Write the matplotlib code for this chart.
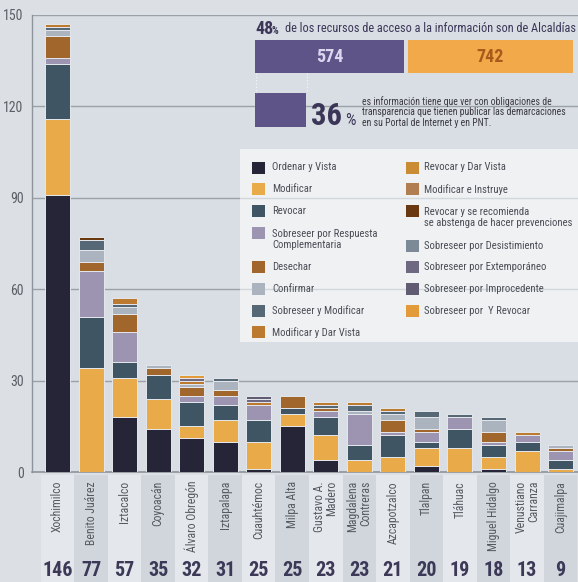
import numpy as np
import matplotlib
matplotlib.use("Agg")
import matplotlib.pyplot as plt
from matplotlib import font_manager, transforms
from matplotlib.patches import Rectangle

# ---------------- data ----------------
categories = ["Xochimilco", "Benito Juárez", "Iztacalco", "Coyoacán", "Álvaro Obregón",
              "Iztapalapa", "Cuauhtémoc", "Milpa Alta", "Gustavo A.\nMadero",
              "Magdalena\nContreras", "Azcapotzalco", "Tlalpan", "Tláhuac",
              "Miguel Hidalgo", "Venustiano\nCarranza", "Cuajimalpa"]
totals = [146, 77, 57, 35, 32, 31, 25, 25, 23, 23, 21, 20, 19, 18, 13, 9]

series_names = ["Ordenar y Vista", "Modificar", "Revocar",
                "Sobreseer por Respuesta\nComplementaria", "Desechar", "Confirmar",
                "Sobreseer y Modificar", "Modificar y Dar Vista", "Revocar y Dar Vista",
                "Modificar e Instruye",
                "Revocar y se recomienda\nse abstenga de hacer prevenciones",
                "Sobreseer por Desistimiento", "Sobreseer por Extemporáneo",
                "Sobreseer por Improcedente", "Sobreseer por  Y Revocar"]
series_colors = ["#262437", "#e9ab4a", "#3f5563", "#9d94b1", "#a0662b", "#abb3be",
                 "#566775", "#bb7a2f", "#c98b33", "#b07e50", "#693a12", "#7b8a96",
                 "#6e6881", "#625c72", "#e39b3a"]

ordenar      = [91, 0, 18, 14, 11, 10, 1, 15, 4, 0, 0, 2, 0, 1, 0, 0]
modificar    = [25, 34, 13, 10, 4, 7, 9, 4, 8, 4, 5, 6, 8, 4, 7, 1]
revocar      = [18, 17, 5, 8, 8, 5, 7, 2, 6, 5, 7, 2, 6, 4, 3, 3]
resp_compl   = [2, 15, 10, 0, 2, 3, 5, 0, 2, 10, 1, 3, 4, 1, 2, 3]
desechar     = [7, 3, 6, 2, 3, 2, 0, 4, 1, 0, 4, 1, 0, 3, 0, 1]
confirmar    = [2, 4, 2, 1, 1, 3, 0, 0, 0, 1, 2, 4, 0, 4, 0, 1]
sob_modif    = [1, 3, 1, 0, 0, 1, 0, 0, 1, 2, 1, 2, 1, 1, 0, 0]
modif_dv     = [1, 0, 2, 0, 1, 0, 1, 0, 1, 1, 1, 0, 0, 0, 1, 0]
revocar_dv   = [0] * 16
modif_instr  = [0] * 16
revocar_rec  = [0, 1, 0, 0, 0, 0, 0, 0, 0, 0, 0, 0, 0, 0, 0, 0]
desist       = [0] * 16
extemp       = [0, 0, 0, 0, 1, 0, 1, 0, 0, 0, 0, 0, 0, 0, 0, 0]
improc       = [0, 0, 0, 0, 0, 0, 1, 0, 0, 0, 0, 0, 0, 0, 0, 0]
sob_revocar  = [0, 0, 0, 0, 1, 0, 0, 0, 0, 0, 0, 0, 0, 0, 0, 0]
series_values = [ordenar, modificar, revocar, resp_compl, desechar, confirmar, sob_modif,
                 modif_dv, revocar_dv, modif_instr, revocar_rec, desist, extemp, improc,
                 sob_revocar]

yticks = [0, 30, 60, 90, 120, 150]
header_pct = "48"
header_text = "de los recursos de acceso a la información son de Alcaldías"
box_values = [574, 742]
sub_pct = "36"
sub_text = ("es información tiene que ver con obligaciones de\n"
            "transparencia que tienen publicar las demarcaciones\n"
            "en su Portal de Internet y en PNT.")

# ---------------- fonts ----------------
names = {f.name for f in font_manager.fontManager.ttflist}
COND = "DejaVu Sans"
for cand in ["Roboto Condensed", "Liberation Sans Narrow", "Open Sans Condensed", "Roboto"]:
    if cand in names:
        COND = cand
        break
plt.rcParams["font.family"] = [COND, "DejaVu Sans"]

# ---------------- figure ----------------
W, H = 578, 582
BG = "#dce0e5"
PLOT_BG = "#d9dee4"
fig = plt.figure(figsize=(W / 100, H / 100), dpi=100, facecolor=BG)
ax = fig.add_axes([32 / W, (H - 472) / H, (W - 32) / W, (472 - 15) / H])
ax.set_facecolor(PLOT_BG)

n = len(categories)
x = np.arange(n)
ax.set_xlim(-0.76, n - 1 + 0.52)
ax.set_ylim(0, 150)

bottom = np.zeros(n)
for vals, col in zip(series_values, series_colors):
    v = np.array(vals, dtype=float)
    m = v > 0
    if m.any():
        ax.bar(x[m], v[m], bottom=bottom[m], width=0.745, color=col,
               edgecolor="#e4e7eb", linewidth=0.7, zorder=3)
    bottom += v

ax.set_yticks(yticks)
ax.set_yticklabels([str(t) for t in yticks], fontsize=10, color="#5a5f66")
ax.tick_params(axis="y", length=0, pad=6)
ax.set_xticks([])
ax.yaxis.grid(True, color="#9ba1a8", linewidth=1.0)
ax.set_axisbelow(True)
for s in ["top", "right"]:
    ax.spines[s].set_visible(False)
ax.spines["left"].set_color("#8e949b")
ax.spines["bottom"].set_color("#8e949b")
ax.spines["left"].set_linewidth(1.0)
ax.spines["bottom"].set_linewidth(1.2)

# lower category columns
trans = transforms.blended_transform_factory(ax.transData, fig.transFigure)
for i, (cat, tot) in enumerate(zip(categories, totals)):
    fc = "#e4e7eb" if i % 2 == 0 else "#d1d6dc"
    ax.add_patch(Rectangle((i - 0.5, 0), 1.0, (H - 475) / H, transform=trans,
                           clip_on=False, facecolor=fc, edgecolor="none", zorder=0))
    ax.text(i, (H - 481) / H, cat, transform=trans, rotation=90, ha="center", va="top",
            fontsize=8.5, color="#555a61", multialignment="right", linespacing=0.95,
            clip_on=False)
    ax.text(i, (H - 571) / H, str(tot), transform=trans, ha="center", va="center",
            fontsize=14.5, fontweight="bold", color="#3b3957", clip_on=False)

# ---------------- overlay (infographic + legend) ----------------
ov = fig.add_axes([0, 0, 1, 1], zorder=5)
ov.set_xlim(0, W)
ov.set_ylim(H, 0)
ov.axis("off")
ov.patch.set_alpha(0)

PURPLE = "#5e5488"
ORANGE = "#f2a94a"
TXT = "#3b3657"

ov.text(255, 29, header_pct, fontsize=13, fontweight="bold", color=TXT,
        ha="left", va="center")
ov.text(272, 31.5, "%", fontsize=7.5, fontweight="bold", color=TXT, ha="left", va="center")
ov.text(576, 29, header_text, fontsize=8.8, color=TXT, ha="right", va="center")

ov.add_patch(Rectangle((255, 40), 149, 33, facecolor=PURPLE, edgecolor="none"))
ov.add_patch(Rectangle((408, 40), 165, 33, facecolor=ORANGE, edgecolor="none"))
ov.text(329.5, 56.5, str(box_values[0]), fontsize=13, fontweight="bold", color="#dcd7ef",
        ha="center", va="center")
ov.text(490.5, 56.5, str(box_values[1]), fontsize=13, fontweight="bold", color="#a65b1c",
        ha="center", va="center")
ov.plot([255.5, 255.5], [73, 93], color="#f4f5f8", lw=0.9, ls=":")
ov.plot([306.5, 306.5], [73, 93], color="#f4f5f8", lw=0.9, ls=":")
ov.add_patch(Rectangle((255, 93), 51, 34, facecolor=PURPLE, edgecolor="none"))
ov.text(311, 125, sub_pct, fontsize=22, fontweight="bold", color=TXT,
        ha="left", va="baseline")
ov.text(345, 125, "%", fontsize=12, color=TXT, ha="left", va="baseline")
ov.text(362, 112, sub_text, fontsize=7.0, color="#3a3a40", ha="left", va="center",
        linespacing=1.1)

# legend box
ov.add_patch(Rectangle((240, 149), W - 240, 193, facecolor="white", alpha=0.58,
                       edgecolor="none"))
cols = [(252, 272, series_names[:8], series_colors[:8]),
        (406, 424, series_names[8:], series_colors[8:])]
for sx, tx, labs, cs in cols:
    y = 167.5
    for lab, c in zip(labs, cs):
        nl = lab.count("\n") + 1
        ov.add_patch(Rectangle((sx, y - 6), 13, 12, facecolor=c, edgecolor="none"))
        ov.text(tx, y + (nl - 1) * 6.7, lab, fontsize=7.7, color="#4a4d55",
                ha="left", va="center", linespacing=1.1)
        y += 21.7 + (nl - 1) * 13

fig.savefig("out.png", dpi=100, facecolor=BG)
